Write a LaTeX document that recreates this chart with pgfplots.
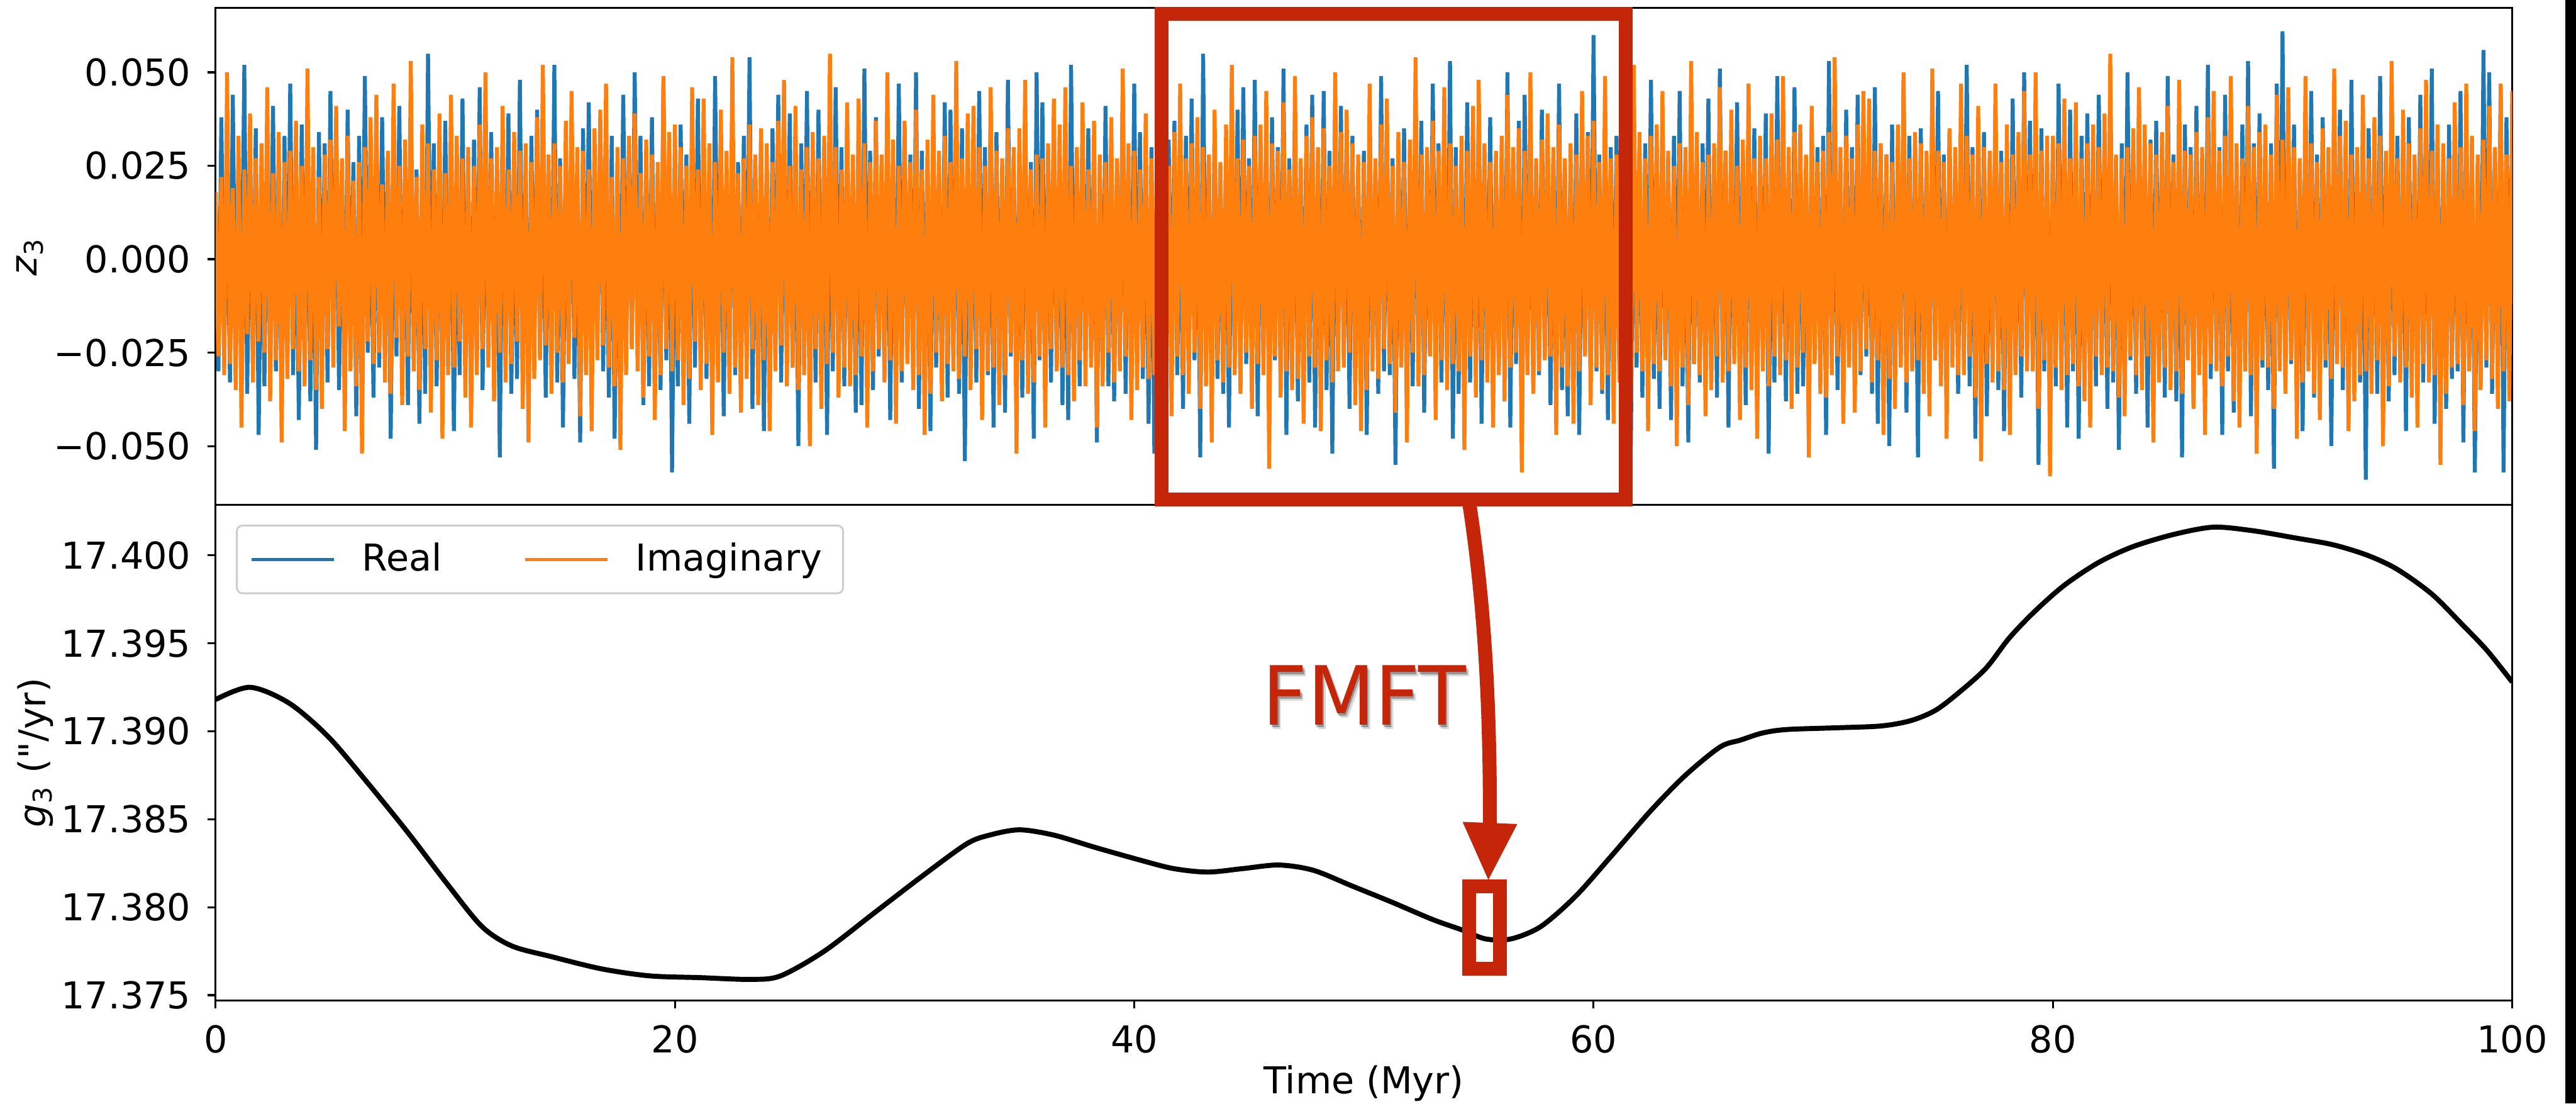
\documentclass[border=0pt]{standalone}
\usepackage{pgfplots}
\pgfplotsset{compat=1.18}
\usepackage{pgfplotstable}
\usepackage{fontspec}
\usepackage{graphicx}
\setmainfont{DejaVu Sans}[Ligatures=TeXOff]
\definecolor{mplblue}{HTML}{1F77B4}
\definecolor{mplorange}{HTML}{FF7F0E}
\definecolor{annred}{RGB}{197,37,8}

\pgfplotstableread[row sep=\\]{
t re im\\
0 .016 .018\\0.125 -.030 -.026\\0.25 .038 .022\\0.375 -.024 -.031\\0.5 .021 .050\\0.625 -.033 -.028\\0.75 .044 .019\\0.875 -.031 -.035\\
1 .027 .033\\1.125 -.019 -.045\\1.25 .052 .024\\1.375 -.036 -.020\\1.5 .023 .039\\1.625 -.028 -.033\\1.75 .035 .027\\1.875 -.047 -.022\\
2 .020 .031\\2.125 -.034 -.025\\2.25 .029 .046\\2.375 -.022 -.038\\2.5 .041 .023\\2.625 -.030 -.027\\2.75 .025 .034\\2.875 -.038 -.049\\
3 .033 .026\\3.125 -.025 -.032\\3.25 .047 .029\\3.375 -.031 -.024\\3.5 .022 .037\\3.625 -.043 -.030\\3.75 .036 .025\\3.875 -.027 -.034\\
4 .029 .051\\4.125 -.038 -.027\\4.25 .024 .030\\4.375 -.051 -.035\\4.5 .034 .022\\4.625 -.026 -.040\\4.75 .031 .028\\4.875 -.033 -.024\\
5 .045 .032\\5.125 -.021 -.029\\5.25 .030 .041\\5.375 -.035 -.018\\5.5 .019 .027\\5.625 -.032 -.046\\5.75 .040 .033\\5.875 -.024 -.030\\
6 .026 .021\\6.125 -.042 -.034\\6.25 .033 .026\\6.375 -.028 -.052\\6.5 .049 .030\\6.625 -.025 -.022\\6.75 .021 .038\\6.875 -.037 -.028\\
7 .032 .044\\7.125 -.029 -.025\\7.25 .038 .020\\7.375 -.020 -.033\\7.5 .027 .029\\7.625 -.048 -.036\\7.75 .030 .047\\7.875 -.026 -.021\\
8 .041 .025\\8.125 -.033 -.039\\8.25 .022 .032\\8.375 -.039 -.026\\8.5 .035 .053\\8.625 -.027 -.030\\8.75 .024 .022\\8.875 -.044 -.035\\
9 .028 .036\\9.125 -.036 -.024\\9.25 .055 .031\\9.375 -.023 -.041\\9.5 .031 .024\\9.625 -.034 -.027\\9.75 .026 .039\\9.875 -.030 -.048\\
10 .037 .023\\10.125 -.024 -.031\\10.25 .027 .044\\10.375 -.046 -.029\\10.5 .022 .033\\10.625 -.031 -.022\\10.75 .043 .027\\10.875 -.028 -.037\\
11 .024 .030\\11.125 -.040 -.045\\11.25 .032 .025\\11.375 -.027 -.031\\11.5 .046 .036\\11.625 -.035 -.024\\11.75 .029 .050\\11.875 -.022 -.029\\
12 .034 .027\\12.125 -.029 -.038\\12.25 .023 .030\\12.375 -.053 -.025\\12.5 .030 .041\\12.625 -.025 -.033\\12.75 .039 .024\\12.875 -.036 -.028\\
13 .022 .034\\13.125 -.032 -.022\\13.25 .048 .029\\13.375 -.030 -.040\\13.5 .026 .031\\13.625 -.041 -.049\\13.75 .033 .026\\13.875 -.025 -.032\\
14 .040 .038\\14.125 -.026 -.027\\14.25 .031 .052\\14.375 -.037 -.023\\14.5 .023 .028\\14.625 -.028 -.036\\14.75 .052 .031\\14.875 -.033 -.025\\
15 .027 .025\\15.125 -.045 -.033\\15.25 .025 .037\\15.375 -.024 -.028\\15.5 .038 .045\\15.625 -.032 -.021\\15.75 .021 .030\\15.875 -.049 -.042\\
16 .035 .029\\16.125 -.028 -.031\\16.25 .042 .024\\16.375 -.033 -.046\\16.5 .029 .035\\16.625 -.022 -.027\\16.75 .036 .040\\16.875 -.030 -.023\\
17 .025 .047\\17.125 -.037 -.029\\17.25 .033 .022\\17.375 -.048 -.034\\17.5 .024 .030\\17.625 -.029 -.051\\17.75 .044 .027\\17.875 -.023 -.031\\
18 .031 .033\\18.125 -.024 -.024\\18.25 .050 .039\\18.375 -.026 -.030\\18.5 .033 .023\\18.625 -.039 -.037\\18.75 .027 .032\\18.875 -.034 -.026\\
19 .038 .028\\19.125 -.031 -.043\\19.25 .023 .026\\19.375 -.035 -.031\\19.5 .047 .049\\19.625 -.027 -.024\\19.75 .030 .034\\19.875 -.057 -.030\\
20 .026 .036\\20.125 -.034 -.027\\20.25 .036 .030\\20.375 -.023 -.039\\20.5 .028 .025\\20.625 -.044 -.032\\20.75 .035 .046\\20.875 -.029 -.022\\
21 .043 .024\\21.125 -.027 -.035\\21.25 .029 .043\\21.375 -.032 -.028\\21.5 .022 .031\\21.625 -.036 -.047\\21.75 .049 .026\\21.875 -.025 -.033\\
22 .030 .040\\22.125 -.042 -.025\\22.25 .024 .029\\22.375 -.028 -.036\\22.5 .039 .054\\22.625 -.031 -.029\\22.75 .026 .023\\22.875 -.038 -.041\\
23 .033 .027\\23.125 -.025 -.032\\23.25 .054 .036\\23.375 -.040 -.024\\23.5 .027 .028\\23.625 -.030 -.039\\23.75 .032 .035\\23.875 -.046 -.027\\
24 .023 .031\\24.125 -.036 -.046\\24.25 .035 .026\\24.375 -.025 -.030\\24.5 .044 .037\\24.625 -.033 -.023\\24.75 .028 .048\\24.875 -.027 -.034\\
25 .039 .025\\25.125 -.029 -.029\\25.25 .026 .041\\25.375 -.050 -.035\\25.5 .031 .024\\25.625 -.024 -.031\\25.75 .045 .030\\25.875 -.035 -.050\\
26 .028 .034\\26.125 -.033 -.024\\26.25 .040 .027\\26.375 -.027 -.040\\26.5 .024 .033\\26.625 -.047 -.028\\26.75 .033 .055\\26.875 -.030 -.025\\
27 .046 .030\\27.125 -.026 -.037\\27.25 .030 .024\\27.375 -.034 -.029\\27.5 .037 .042\\27.625 -.029 -.034\\27.75 .024 .028\\27.875 -.041 -.031\\
28 .031 .043\\28.125 -.039 -.026\\28.25 .051 .031\\28.375 -.024 -.045\\28.5 .029 .026\\28.625 -.035 -.030\\28.75 .038 .037\\28.875 -.026 -.024\\
29 .025 .028\\29.125 -.031 -.033\\29.25 .034 .050\\29.375 -.043 -.027\\29.5 .026 .032\\29.625 -.028 -.044\\29.75 .047 .025\\29.875 -.033 -.030\\
30 .036 .037\\30.125 -.027 -.028\\30.25 .028 .026\\30.375 -.031 -.035\\30.5 .050 .040\\30.625 -.040 -.031\\30.75 .029 .024\\30.875 -.024 -.047\\
31 .027 .032\\31.125 -.046 -.036\\31.25 .032 .044\\31.375 -.029 -.025\\31.5 .023 .029\\31.625 -.033 -.038\\31.75 .042 .033\\31.875 -.037 -.028\\
32 .040 .026\\32.125 -.025 -.030\\32.25 .027 .053\\32.375 -.036 -.032\\32.5 .035 .027\\32.625 -.054 -.026\\32.75 .031 .039\\32.875 -.028 -.035\\
33 .024 .041\\33.125 -.033 -.024\\33.25 .045 .030\\33.375 -.027 -.043\\33.5 .030 .025\\33.625 -.031 -.030\\33.75 .036 .046\\33.875 -.045 -.029\\
34 .034 .029\\34.125 -.028 -.039\\34.25 .025 .027\\34.375 -.041 -.031\\34.5 .048 .035\\34.625 -.026 -.025\\34.75 .027 .030\\34.875 -.032 -.052\\
35 .029 .035\\35.125 -.037 -.027\\35.25 .033 .048\\35.375 -.024 -.036\\35.5 .026 .024\\35.625 -.048 -.033\\35.75 .050 .028\\35.875 -.027 -.026\\
36 .042 .027\\36.125 -.030 -.045\\36.25 .029 .031\\36.375 -.033 -.024\\36.5 .038 .043\\36.625 -.029 -.030\\36.75 .024 .036\\36.875 -.039 -.029\\
37 .026 .046\\37.125 -.043 -.031\\37.25 .052 .025\\37.375 -.028 -.038\\37.5 .027 .030\\37.625 -.034 -.027\\37.75 .033 .042\\37.875 -.025 -.034\\
38 .035 .024\\38.125 -.026 -.029\\38.25 .030 .037\\38.375 -.049 -.045\\38.5 .024 .028\\38.625 -.030 -.034\\38.75 .041 .026\\38.875 -.034 -.025\\
39 .030 .038\\39.125 -.038 -.033\\39.25 .026 .027\\39.375 -.027 -.030\\39.5 .046 .051\\39.625 -.036 -.026\\39.75 .028 .031\\39.875 -.029 -.043\\
40 .047 .029\\40.125 -.029 -.035\\40.25 .034 .024\\40.375 -.032 -.029\\40.5 .025 .039\\40.625 -.044 -.032\\40.75 .030 .027\\40.875 -.052 -.031\\
41 .028 .033\\41.125 -.035 -.027\\41.25 .039 .045\\41.375 -.025 -.030\\41.5 .032 .025\\41.625 -.029 -.042\\41.75 .037 .034\\41.875 -.031 -.026\\
42 .024 .047\\42.125 -.040 -.031\\42.25 .033 .027\\42.375 -.030 -.036\\42.5 .043 .031\\42.625 -.027 -.025\\42.75 .029 .038\\42.875 -.053 -.040\\
43 .055 .030\\43.125 -.028 -.034\\43.25 .026 .028\\43.375 -.037 -.049\\43.5 .034 .040\\43.625 -.032 -.027\\43.75 .025 .026\\43.875 -.036 -.033\\
44 .032 .036\\44.125 -.045 -.029\\44.25 .029 .052\\44.375 -.026 -.031\\44.5 .040 .027\\44.625 -.034 -.036\\44.75 .046 .032\\44.875 -.028 -.025\\
45 .027 .025\\45.125 -.031 -.040\\45.25 .048 .033\\45.375 -.042 -.028\\45.5 .026 .036\\45.625 -.025 -.031\\45.75 .031 .045\\45.875 -.039 -.056\\
46 .038 .031\\46.125 -.027 -.026\\46.25 .030 .029\\46.375 -.031 -.037\\46.5 .051 .042\\46.625 -.047 -.030\\46.75 .027 .024\\46.875 -.026 -.035\\
47 .033 .049\\47.125 -.038 -.032\\47.25 .025 .027\\47.375 -.029 -.044\\47.5 .036 .033\\47.625 -.033 -.026\\47.75 .044 .038\\47.875 -.045 -.029\\
48 .026 .030\\48.125 -.030 -.046\\48.25 .045 .035\\48.375 -.035 -.027\\48.5 .029 .025\\48.625 -.052 -.033\\48.75 .032 .050\\48.875 -.027 -.030\\
49 .041 .034\\49.125 -.026 -.029\\49.25 .028 .040\\49.375 -.040 -.025\\49.5 .033 .031\\49.625 -.029 -.039\\49.75 .025 .028\\49.875 -.034 -.046\\
50 .029 .026\\50.125 -.047 -.035\\50.25 .037 .047\\50.375 -.027 -.030\\50.5 .024 .027\\50.625 -.036 -.032\\50.75 .049 .036\\50.875 -.030 -.024\\
51 .036 .043\\51.125 -.031 -.028\\51.25 .027 .025\\51.375 -.055 -.041\\51.5 .031 .034\\51.625 -.026 -.029\\51.75 .035 .026\\51.875 -.038 -.049\\
52 .023 .032\\52.125 -.034 -.025\\52.25 .043 .054\\52.375 -.030 -.034\\52.5 .037 .028\\52.625 -.041 -.031\\52.75 .028 .030\\52.875 -.025 -.026\\
53 .047 .037\\53.125 -.029 -.043\\53.25 .031 .029\\53.375 -.033 -.027\\53.5 .026 .046\\53.625 -.030 -.035\\53.75 .053 .031\\53.875 -.048 -.028\\
54 .030 .025\\54.125 -.036 -.030\\54.25 .024 .033\\54.375 -.028 -.051\\54.5 .042 .029\\54.625 -.033 -.026\\54.75 .029 .041\\54.875 -.031 -.037\\
55 .035 .048\\55.125 -.044 -.027\\55.25 .029 .031\\55.375 -.026 -.033\\55.5 .038 .026\\55.625 -.037 -.045\\55.75 .026 .029\\55.875 -.029 -.031\\
56 .027 .033\\56.125 -.030 -.038\\56.25 .050 .044\\56.375 -.045 -.029\\56.5 .030 .030\\56.625 -.028 -.025\\56.75 .037 .035\\56.875 -.049 -.057\\
57 .044 .029\\57.125 -.027 -.031\\57.25 .032 .050\\57.375 -.034 -.036\\57.5 .025 .027\\57.625 -.031 -.030\\57.75 .040 .032\\57.875 -.026 -.027\\
58 .031 .039\\58.125 -.039 -.026\\58.25 .027 .030\\58.375 -.029 -.047\\58.5 .047 .036\\58.625 -.035 -.029\\58.75 .026 .027\\58.875 -.042 -.034\\
59 .026 .031\\59.125 -.033 -.044\\59.25 .039 .028\\59.375 -.047 -.030\\59.5 .029 .045\\59.625 -.025 -.026\\59.75 .034 .033\\59.875 -.032 -.039\\
60 .060 .037\\60.125 -.030 -.029\\60.25 .028 .026\\60.375 -.036 -.035\\60.5 .035 .049\\60.625 -.043 -.031\\60.75 .030 .027\\60.875 -.027 -.044\\
61 .033 .028\\61.125 -.028 -.033\\61.25 .045 .040\\61.375 -.031 -.027\\61.5 .026 .031\\61.625 -.050 -.038\\61.75 .037 .052\\61.875 -.029 -.025\\
62 .029 .034\\62.125 -.037 -.030\\62.25 .031 .027\\62.375 -.026 -.046\\62.5 .048 .033\\62.625 -.032 -.028\\62.75 .025 .036\\62.875 -.040 -.030\\
63 .038 .045\\63.125 -.025 -.027\\63.25 .027 .029\\63.375 -.043 -.034\\63.5 .033 .025\\63.625 -.029 -.050\\63.75 .045 .031\\63.875 -.034 -.029\\
64 .025 .030\\64.125 -.049 -.039\\64.25 .036 .053\\64.375 -.028 -.028\\64.5 .027 .034\\64.625 -.033 -.031\\64.75 .031 .026\\64.875 -.027 -.042\\
65 .043 .028\\65.125 -.032 -.035\\65.25 .026 .031\\65.375 -.037 -.026\\65.5 .051 .046\\65.625 -.028 -.033\\65.75 .029 .029\\65.875 -.045 -.030\\
66 .030 .040\\66.125 -.026 -.028\\66.25 .042 .025\\66.375 -.031 -.043\\66.5 .028 .032\\66.625 -.039 -.029\\66.75 .034 .047\\66.875 -.028 -.035\\
67 .035 .027\\67.125 -.040 -.048\\67.25 .029 .033\\67.375 -.025 -.030\\67.5 .039 .027\\67.625 -.052 -.034\\67.75 .027 .039\\67.875 -.033 -.026\\
68 .049 .032\\68.125 -.029 -.031\\68.25 .033 .049\\68.375 -.038 -.027\\68.5 .024 .030\\68.625 -.030 -.040\\68.75 .046 .034\\68.875 -.036 -.029\\
69 .028 .036\\69.125 -.034 -.025\\69.25 .025 .028\\69.375 -.046 -.053\\69.5 .036 .041\\69.625 -.027 -.028\\69.75 .030 .026\\69.875 -.030 -.036\\
70 .033 .029\\70.125 -.047 -.037\\70.25 .053 .034\\70.375 -.026 -.031\\70.5 .029 .054\\70.625 -.035 -.026\\70.75 .024 .030\\70.875 -.039 -.044\\
71 .040 .033\\71.125 -.028 -.029\\71.25 .030 .027\\71.375 -.032 -.041\\71.5 .044 .036\\71.625 -.031 -.030\\71.75 .036 .045\\71.875 -.026 -.024\\
72 .027 .043\\72.125 -.036 -.033\\72.25 .046 .029\\72.375 -.044 -.027\\72.5 .031 .031\\72.625 -.027 -.047\\72.75 .028 .028\\72.875 -.050 -.032\\
73 .036 .026\\73.125 -.030 -.040\\73.25 .026 .036\\73.375 -.028 -.029\\73.5 .048 .050\\73.625 -.041 -.033\\73.75 .033 .027\\73.875 -.029 -.030\\
74 .031 .034\\74.125 -.053 -.027\\74.25 .035 .031\\74.375 -.029 -.036\\74.5 .026 .029\\74.625 -.034 -.042\\74.75 .042 .051\\74.875 -.027 -.027\\
75 .045 .029\\75.125 -.031 -.034\\75.25 .028 .026\\75.375 -.039 -.048\\75.5 .034 .035\\75.625 -.026 -.029\\75.75 .025 .030\\75.875 -.036 -.031\\
76 .029 .047\\76.125 -.027 -.031\\76.25 .052 .033\\76.375 -.034 -.026\\76.5 .030 .028\\76.625 -.048 -.037\\76.75 .037 .041\\76.875 -.031 -.054\\
77 .034 .030\\77.125 -.042 -.028\\77.25 .027 .029\\77.375 -.027 -.033\\77.5 .041 .047\\77.625 -.035 -.030\\77.75 .029 .026\\77.875 -.046 -.035\\
78 .026 .036\\78.125 -.033 -.047\\78.25 .043 .028\\78.375 -.030 -.031\\78.5 .027 .034\\78.625 -.037 -.026\\78.75 .050 .045\\78.875 -.028 -.030\\
79 .037 .028\\79.125 -.029 -.030\\79.25 .031 .050\\79.375 -.055 -.040\\79.5 .035 .029\\79.625 -.030 -.027\\79.75 .026 .033\\79.875 -.038 -.058\\
80 .032 .033\\80.125 -.034 -.029\\80.25 .047 .031\\80.375 -.026 -.035\\80.5 .029 .043\\80.625 -.045 -.031\\80.75 .040 .027\\80.875 -.030 -.028\\
81 .028 .042\\81.125 -.048 -.034\\81.25 .033 .027\\81.375 -.031 -.038\\81.5 .039 .031\\81.625 -.027 -.045\\81.75 .030 .036\\81.875 -.034 -.026\\
82 .044 .030\\82.125 -.028 -.031\\82.25 .026 .039\\82.375 -.040 -.029\\82.5 .046 .055\\82.625 -.033 -.030\\82.75 .027 .028\\82.875 -.051 -.037\\
83 .031 .027\\83.125 -.032 -.042\\83.25 .050 .030\\83.375 -.027 -.026\\83.5 .028 .035\\83.625 -.036 -.031\\83.75 .043 .046\\83.875 -.029 -.035\\
84 .027 .036\\84.125 -.045 -.026\\84.25 .032 .031\\84.375 -.033 -.049\\84.5 .037 .028\\84.625 -.028 -.033\\84.75 .030 .034\\84.875 -.037 -.029\\
85 .049 .041\\85.125 -.030 -.035\\85.25 .028 .026\\85.375 -.038 -.030\\85.5 .033 .048\\85.625 -.053 -.036\\85.75 .036 .029\\85.875 -.026 -.027\\
86 .030 .028\\86.125 -.039 -.040\\86.25 .041 .034\\86.375 -.028 -.031\\86.5 .026 .030\\86.625 -.034 -.047\\86.75 .052 .038\\86.875 -.032 -.028\\
87 .035 .045\\87.125 -.027 -.030\\87.25 .030 .029\\87.375 -.047 -.034\\87.5 .044 .033\\87.625 -.030 -.026\\87.75 .028 .049\\87.875 -.041 -.038\\
88 .026 .031\\88.125 -.036 -.045\\88.25 .036 .027\\88.375 -.030 -.030\\88.5 .053 .041\\88.625 -.042 -.031\\88.75 .031 .030\\88.875 -.028 -.052\\
89 .039 .034\\89.125 -.029 -.027\\89.25 .027 .036\\89.375 -.035 -.029\\89.5 .031 .028\\89.625 -.056 -.040\\89.75 .047 .044\\89.875 -.027 -.030\\
90 .061 .032\\90.125 -.033 -.036\\90.25 .029 .046\\90.375 -.028 -.027\\90.5 .036 .030\\90.625 -.040 -.048\\90.75 .026 .027\\90.875 -.046 -.033\\
91 .032 .049\\91.125 -.026 -.030\\91.25 .045 .031\\91.375 -.037 -.036\\91.5 .028 .026\\91.625 -.031 -.043\\91.75 .038 .035\\91.875 -.029 -.027\\
92 .027 .030\\92.125 -.050 -.032\\92.25 .034 .051\\92.375 -.026 -.028\\92.5 .040 .033\\92.625 -.035 -.029\\92.75 .029 .037\\92.875 -.043 -.046\\
93 .048 .028\\93.125 -.031 -.038\\93.25 .026 .030\\93.375 -.033 -.031\\93.5 .032 .044\\93.625 -.059 -.030\\93.75 .035 .027\\93.875 -.028 -.036\\
94 .030 .038\\94.125 -.036 -.027\\94.25 .049 .033\\94.375 -.029 -.050\\94.5 .027 .029\\94.625 -.038 -.034\\94.75 .042 .053\\94.875 -.031 -.026\\
95 .033 .027\\95.125 -.028 -.033\\95.25 .030 .040\\95.375 -.046 -.029\\95.5 .038 .031\\95.625 -.027 -.037\\95.75 .026 .028\\95.875 -.035 -.045\\
96 .044 .035\\96.125 -.033 -.028\\96.25 .028 .048\\96.375 -.030 -.033\\96.5 .051 .029\\96.625 -.044 -.031\\96.75 .031 .036\\96.875 -.027 -.055\\
97 .027 .031\\97.125 -.040 -.036\\97.25 .036 .027\\97.375 -.032 -.029\\97.5 .029 .042\\97.625 -.030 -.028\\97.75 .045 .030\\97.875 -.049 -.039\\
98 .035 .047\\98.125 -.027 -.030\\98.25 .031 .033\\98.375 -.057 -.046\\98.5 .026 .028\\98.625 -.034 -.035\\98.75 .056 .032\\98.875 -.029 -.027\\
99 .050 .041\\99.125 -.036 -.032\\99.25 .029 .030\\99.375 -.030 -.040\\99.5 .046 .047\\99.625 -.057 -.030\\99.75 .038 .028\\99.875 -.022 -.038\\
100 .028 .045\\
}\noise

\pgfplotstableread{
t g
0 17.3918
1.5 17.3925
3.2 17.3916
4.9 17.3897
6.6 17.3871
8.4 17.3842
10.1 17.3813
11.6 17.3789
12.9 17.3778
14.6 17.3772
16.8 17.3765
18.9 17.3761
21.1 17.3760
23.3 17.3759
24.6 17.3761
26.5 17.3775
28.7 17.3797
30.8 17.3818
32.7 17.3836
33.7 17.3841
35.0 17.3844
36.5 17.3841
38.3 17.3834
40.2 17.3827
41.7 17.3822
43.2 17.3820
44.75 17.3822
46.3 17.3824
47.8 17.3821
49.5 17.3812
51.2 17.3803
53.0 17.3793
54.3 17.3787
55.3 17.3782
56.4 17.3782
57.7 17.3789
59.2 17.3806
60.7 17.3828
62.5 17.3855
64.0 17.3875
65.5 17.3891
66.4 17.3895
67.35 17.3899
68.4 17.3901
70.6 17.3902
72.5 17.3903
73.8 17.3906
74.9 17.3912
76.0 17.3923
77.1 17.3936
78.1 17.3953
79.2 17.3968
80.5 17.3983
82.0 17.3996
83.5 17.4005
85.3 17.4012
87.0 17.4016
88.7 17.4014
90.5 17.4010
92.2 17.4006
93.7 17.4000
95.0 17.3992
96.5 17.3978
97.8 17.3961
98.9 17.3946
100 17.3928
}\gthree

\pgfplotsset{
  myax/.style={
    scale only axis, width=620.58pt,
    xmin=0, xmax=100,
    axis line style={line width=0.55pt},
    tick style={black, line width=0.55pt},
    tick align=outside, major tick length=2.2pt,
    xtick pos=left, ytick pos=left,
    scaled ticks=false,
    ticklabel style={font=\fontsize{10}{12}\selectfont},
    xticklabel style={inner sep=0pt, anchor=north, yshift=-4.3pt},
    yticklabel style={inner sep=0pt, anchor=east, xshift=-4.3pt},
  }
}

\begin{document}
\begin{tikzpicture}
\path[use as bounding box] (0,0) rectangle (696.09pt,298.12pt);

% top panel
\begin{axis}[myax, at={(58.26pt,161.74pt)}, anchor=south west, height=134.2pt,
  ymin=-0.0657, ymax=0.0672, xtick=\empty,
  ytick={-0.05,-0.025,0,0.025,0.05},
  yticklabels={−0.050,−0.025,0.000,0.025,0.050},
]
\addplot[mplblue, line width=1.05pt] table[x=t,y=re]{\noise};
\addplot[mplorange, line width=1.05pt] table[x=t,y=im]{\noise};
\end{axis}

% bottom panel
\begin{axis}[myax, at={(58.26pt,27.83pt)}, anchor=south west, height=133.91pt,
  y coord trafo/.code={\edef\pgfmathresult{\fpeval{#1-17.37}}},
  ymin=17.3747, ymax=17.40287,
  ytick={17.375,17.38,17.385,17.39,17.395,17.4},
  yticklabels={17.375,17.380,17.385,17.390,17.395,17.400},
  xtick={0,20,40,60,80,100},
  xticklabels={0,20,40,60,80,100},
  legend columns=2,
  legend image code/.code={\draw[#1] (0pt,0pt) -- (22.3pt,0pt);},
  legend style={at={(axis description cs:0.00887,0.96)}, anchor=north west,
    draw=black!20, line width=0.5pt, rounded corners=1.5pt,
    inner xsep=3.6pt, inner ysep=2.6pt,
    font=\fontsize{10}{12}\selectfont,
    /tikz/every odd column/.append style={column sep=5.2pt},
    /tikz/every even column/.append style={column sep=20.1pt}},
]
\addlegendimage{mplblue, line width=0.75pt}
\addlegendentry{Real}
\addlegendimage{mplorange, line width=0.75pt}
\addlegendentry{Imaginary}
\addplot[black, line width=1.35pt, smooth] table[x=t,y=g]{\gthree};
\end{axis}

\begin{scope}[x=0.144928pt, y=-0.144928pt, shift={(0pt,298.12pt)}]
  % axis labels
  \node[rotate=90] at (56,478) {\textit{z}\textsubscript{3}};
  \node[rotate=90] at (66,1403) {\textit{g}\textsubscript{3} ("/yr)};
  \node[anchor=base] at (2543,2038) {Time (Myr)};
  % annotations
  \draw[annred, line width=3.77pt] (2165.5,25.5) rectangle (3031,931);
  \draw[annred, line width=3.77pt] (2739,935) .. controls (2772,1150) and (2778,1350) .. (2778,1536);
  \fill[annred] (2727,1532) -- (2829,1536) -- (2775,1640) -- cycle;
  \draw[annred, line width=3.7pt] (2739.5,1652) rectangle (2797,1806);
  \node[anchor=base west, inner sep=0pt, text=black, opacity=0.15] at (2359,1360)
    {\scalebox{0.955}[1]{\fontsize{22.07}{26}\selectfont FMFT}};
  \node[anchor=base west, inner sep=0pt, text=black, opacity=0.3] at (2356,1356)
    {\scalebox{0.955}[1]{\fontsize{22.07}{26}\selectfont FMFT}};
  \node[anchor=base west, inner sep=0pt, text=annred] at (2353,1352)
    {\scalebox{0.955}[1]{\fontsize{22.07}{26}\selectfont FMFT}};
  % dark strip at right edge
  \fill[black] (4783,0) rectangle (4803,2057);
\end{scope}
\end{tikzpicture}
\end{document}
